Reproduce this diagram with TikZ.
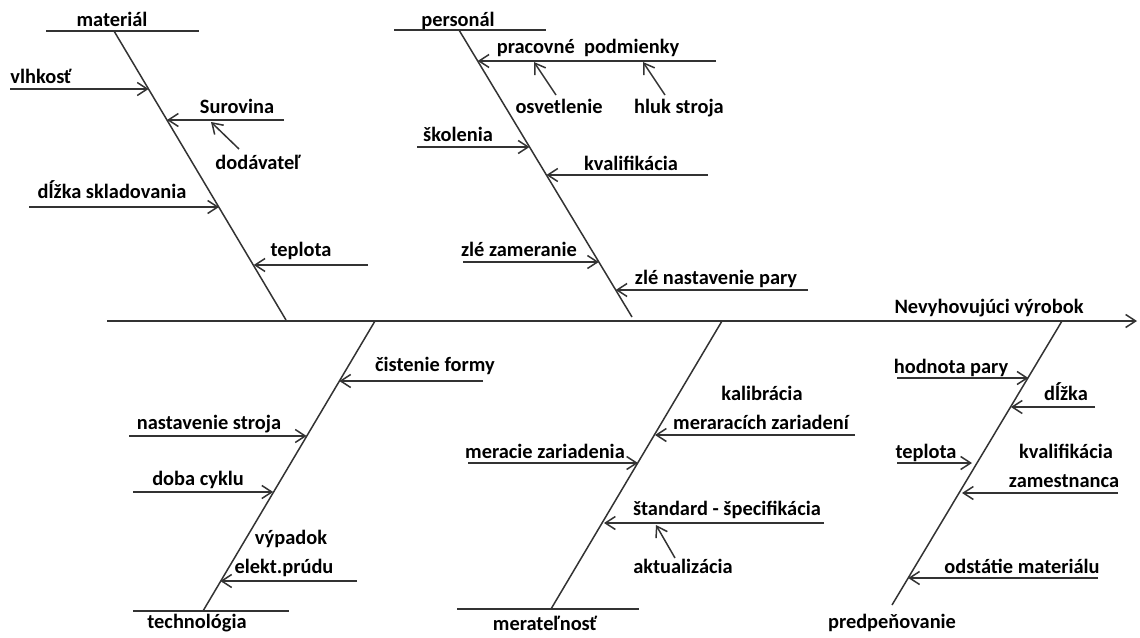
\documentclass[tikz,border=0pt]{standalone}
\usepackage{fontspec}
\setmainfont{Carlito}
\usetikzlibrary{arrows.meta}
\definecolor{ln}{HTML}{333333}
\begin{document}
\begin{tikzpicture}[x=0.5pt,y=-0.5pt,
  lbl/.style={anchor=base,inner sep=0pt,font=\fontsize{10.2}{12}\selectfont\bfseries},
  bone/.style={draw=ln,line width=0.75pt},
  rib/.style={draw=ln,line width=0.75pt,-{Straight Barb[length=5pt,width=6.5pt,line width=0.75pt]}},
  head/.style={draw=ln,line width=0.75pt}]
\useasboundingbox (0,0) rectangle (1140,637);
% spine
\coordinate (sp0) at (107,321);
\coordinate (sp1) at (1137,321);
\draw[rib] (sp0) -- (sp1);
\node[lbl] (nv) at (989,313) {Nevyhovujúci výrobok};

% ---------------- material
\coordinate (mh0) at (46,31); \coordinate (mh1) at (199,31);
\coordinate (mt) at (114,31); \coordinate (mb) at (286,320);
\draw[head] (mh0) -- (mh1);
\draw[bone] (mt) -- (mb);
\node[lbl] (lmat) at (112,26) {materiál};
\coordinate (m1s) at (10,89);  \coordinate (m1e) at (148.6,89);
\coordinate (m2s) at (284,120); \coordinate (m2e) at (167,120);
\coordinate (m3s) at (29,207); \coordinate (m3e) at (219,207);
\coordinate (m4s) at (368,265); \coordinate (m4e) at (253.7,265);
\coordinate (m5s) at (239,149); \coordinate (m5e) at (211,122);
\draw[rib] (m1s) -- (m1e);
\draw[rib] (m2s) -- (m2e);
\draw[rib] (m3s) -- (m3e);
\draw[rib] (m4s) -- (m4e);
\draw[rib] (m5s) -- (m5e);
\node[lbl] (lm1) at (41,83) {vlhkosť};
\node[lbl] (lm2) at (237,113) {Surovina};
\node[lbl] (lm5) at (258,169) {dodávateľ};
\node[lbl] (lm3) at (112,198) {dĺžka skladovania};
\node[lbl] (lm4) at (301,256) {teplota};

% ---------------- personal
\coordinate (ph0) at (394,30); \coordinate (ph1) at (546,30);
\coordinate (pt) at (459,30); \coordinate (pb) at (632,317);
\draw[head] (ph0) -- (ph1);
\draw[bone] (pt) -- (pb);
\node[lbl] (lper) at (458,26) {personál};
\coordinate (p1s) at (716,61);  \coordinate (p1e) at (477.7,61);
\coordinate (p2s) at (417,147); \coordinate (p2e) at (529.5,147);
\coordinate (p3s) at (708,175); \coordinate (p3e) at (546.4,175);
\coordinate (p4s) at (463,262); \coordinate (p4e) at (598.8,262);
\coordinate (p5s) at (808,290); \coordinate (p5e) at (615.7,290);
\coordinate (p6s) at (556,95);  \coordinate (p6e) at (534,62);
\coordinate (p7s) at (665,95);  \coordinate (p7e) at (643,62);
\draw[rib] (p1s) -- (p1e);
\draw[rib] (p2s) -- (p2e);
\draw[rib] (p3s) -- (p3e);
\draw[rib] (p4s) -- (p4e);
\draw[rib] (p5s) -- (p5e);
\draw[rib] (p6s) -- (p6e);
\draw[rib] (p7s) -- (p7e);
\node[lbl] (lp1) at (588,54) {pracovné\ \ podmienky};
\node[lbl] (lp6) at (559,113) {osvetlenie};
\node[lbl] (lp7) at (679,113) {hluk stroja};
\node[lbl] (lp2) at (458,141) {školenia};
\node[lbl] (lp3) at (631,170) {kvalifikácia};
\node[lbl] (lp4) at (519,256) {zlé zameranie};
\node[lbl] (lp5) at (716,284) {zlé nastavenie pary};

% ---------------- technologia
\coordinate (th0) at (133,611); \coordinate (th1) at (289,611);
\coordinate (tt) at (375,321); \coordinate (tb) at (203,611);
\draw[head] (th0) -- (th1);
\draw[bone] (tt) -- (tb);
\node[lbl] (ltec) at (197,628) {technológia};
\coordinate (t1s) at (483,381); \coordinate (t1e) at (339.3,381);
\coordinate (t2s) at (129,436); \coordinate (t2e) at (306.6,436);
\coordinate (t3s) at (133,492); \coordinate (t3e) at (273.2,492);
\coordinate (t4s) at (357,581); \coordinate (t4e) at (220.3,581);
\draw[rib] (t1s) -- (t1e);
\draw[rib] (t2s) -- (t2e);
\draw[rib] (t3s) -- (t3e);
\draw[rib] (t4s) -- (t4e);
\node[lbl] (lt1) at (435,371) {čistenie formy};
\node[lbl] (lt2) at (209,429) {nastavenie stroja};
\node[lbl] (lt3) at (198,485) {doba cyklu};
\node[lbl] (lt4a) at (291,544) {výpadok};
\node[lbl] (lt4b) at (284,573) {elekt.prúdu};

% ---------------- meratelnost
\coordinate (rh0) at (457,609); \coordinate (rh1) at (639,609);
\coordinate (rt) at (722,321); \coordinate (rb) at (551,609);
\draw[head] (rh0) -- (rh1);
\draw[bone] (rt) -- (rb);
\node[lbl] (lmer) at (545,630) {merateľnosť};
\coordinate (r1s) at (855,435); \coordinate (r1e) at (655,435);
\coordinate (r2s) at (468,463); \coordinate (r2e) at (638,463);
\coordinate (r3s) at (824,523); \coordinate (r3e) at (604,523);
\coordinate (r4s) at (675,558); \coordinate (r4e) at (656,525);
\draw[rib] (r1s) -- (r1e);
\draw[rib] (r2s) -- (r2e);
\draw[rib] (r3s) -- (r3e);
\draw[rib] (r4s) -- (r4e);
\node[lbl] (lr1a) at (762,400) {kalibrácia};
\node[lbl] (lr1b) at (761,429) {meraracích zariadení};
\node[lbl] (lr2) at (545,458) {meracie zariadenia};
\node[lbl] (lr3) at (727,515) {štandard - špecifikácia};
\node[lbl] (lr4) at (683,573) {aktualizácia};

% ---------------- predpenovanie
\coordinate (dt) at (1062,321); \coordinate (db) at (892,605);
\draw[bone] (dt) -- (db);
\node[lbl] (lpre) at (892,628) {predpeňovanie};
\coordinate (d1s) at (897,378);  \coordinate (d1e) at (1028.4,378);
\coordinate (d2s) at (1095,407); \coordinate (d2e) at (1010.9,407);
\coordinate (d3s) at (897,463);  \coordinate (d3e) at (972,463);
\coordinate (d4s) at (1118,493); \coordinate (d4e) at (962,493);
\coordinate (d5s) at (1098,578); \coordinate (d5e) at (908.2,578);
\draw[rib] (d1s) -- (d1e);
\draw[rib] (d2s) -- (d2e);
\draw[rib] (d3s) -- (d3e);
\draw[rib] (d4s) -- (d4e);
\draw[rib] (d5s) -- (d5e);
\node[lbl] (ld1) at (951,373) {hodnota pary};
\node[lbl] (ld2) at (1066,400) {dĺžka};
\node[lbl] (ld3) at (926,458) {teplota};
\node[lbl] (ld4a) at (1066,458) {kvalifikácia};
\node[lbl] (ld4b) at (1064,487) {zamestnanca};
\node[lbl] (ld5) at (1022,573) {odstátie materiálu};
\end{tikzpicture}
\end{document}
